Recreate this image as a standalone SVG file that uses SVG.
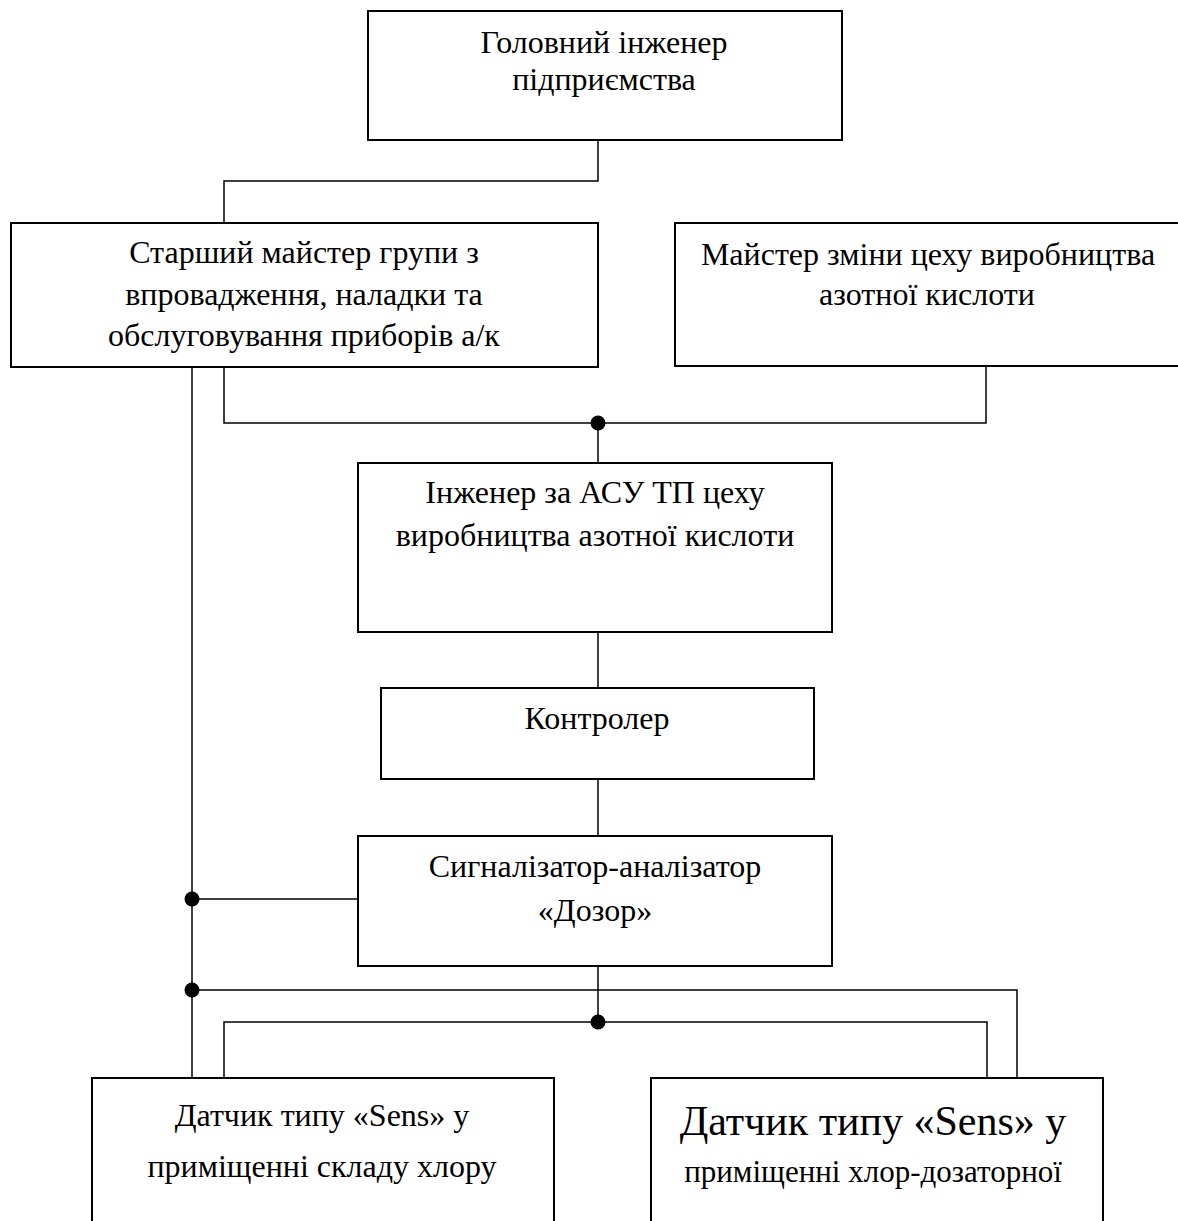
<svg xmlns="http://www.w3.org/2000/svg" width="1178" height="1221" viewBox="0 0 1178 1221">
<style>
.box{fill:#fff;stroke:#000;stroke-width:2}
.t{font-family:"Liberation Serif","Times New Roman",serif;font-size:32px;fill:#000;text-anchor:middle}
.big{font-size:42px}
.s31{font-size:31px}
.c{fill:none;stroke:#000;stroke-width:1.5}
.dot{fill:#000}
</style>
<rect width="1178" height="1221" fill="#fff"/>
<g id="connectors">
<polyline class="c" points="598,140 598,181 224,181 224,223"/>
<polyline class="c" points="224,367 224,423 986,423 986,366"/>
<line class="c" x1="598" y1="423" x2="598" y2="463"/>
<line class="c" x1="598" y1="632" x2="598" y2="688"/>
<line class="c" x1="598" y1="779" x2="598" y2="836"/>
<line class="c" x1="192" y1="367" x2="192" y2="1078"/>
<line class="c" x1="192" y1="899" x2="358" y2="899"/>
<line class="c" x1="598" y1="966" x2="598" y2="1022"/>
<polyline class="c" points="192,990 1017,990 1017,1078"/>
<polyline class="c" points="224,1078 224,1022 987,1022 987,1078"/>
<circle class="dot" cx="598" cy="423" r="7.5"/>
<circle class="dot" cx="192" cy="899" r="7.5"/>
<circle class="dot" cx="192" cy="990" r="7.5"/>
<circle class="dot" cx="598" cy="1022" r="7.5"/>
</g>
<g id="n1">
<rect class="box" x="368" y="11" width="474" height="129"/>
<text class="t" x="604" y="53">Головний інженер</text>
<text class="t" x="604" y="90">підприємства</text>
</g>
<g id="n2">
<rect class="box" x="11" y="223" width="587" height="144"/>
<text class="t" x="304" y="263">Старший майстер групи з</text>
<text class="t" x="304" y="305">впровадження, наладки та</text>
<text class="t" x="304" y="346">обслуговування приборів а/к</text>
</g>
<g id="n3">
<rect class="box" x="675" y="223" width="510" height="143"/>
<text class="t" x="928" y="265">Майстер зміни цеху виробництва</text>
<text class="t" x="927" y="305">азотної кислоти</text>
</g>
<g id="n4">
<rect class="box" x="358" y="463" width="474" height="169"/>
<text class="t" x="595" y="503">Інженер за АСУ ТП цеху</text>
<text class="t" x="595" y="546">виробництва азотної кислоти</text>
</g>
<g id="n5">
<rect class="box" x="381" y="688" width="433" height="91"/>
<text class="t" x="597" y="729">Контролер</text>
</g>
<g id="n6">
<rect class="box" x="358" y="836" width="474" height="130"/>
<text class="t" x="595" y="877">Сигналізатор-аналізатор</text>
<text class="t" x="595" y="921">«Дозор»</text>
</g>
<g id="n7">
<rect class="box" x="92" y="1078" width="462" height="160"/>
<text class="t" x="322" y="1126">Датчик типу «Sens» у</text>
<text class="t" x="322" y="1177">приміщенні складу хлору</text>
</g>
<g id="n8">
<rect class="box" x="651" y="1078" width="452" height="160"/>
<text class="t big" x="873" y="1135">Датчик типу «Sens» у</text>
<text class="t s31" x="873" y="1182">приміщенні хлор-дозаторної</text>
</g>
</svg>
